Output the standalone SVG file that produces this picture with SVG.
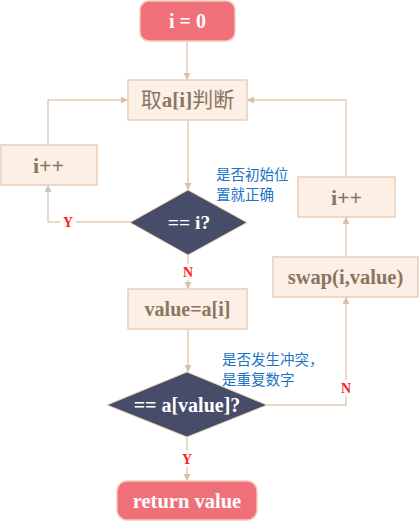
<svg xmlns="http://www.w3.org/2000/svg" width="420" height="522" viewBox="0 0 420 522">
<defs>
<marker id="ah" viewBox="0 0 10 10" refX="10" refY="5" markerWidth="7" markerHeight="7" orient="auto" markerUnits="userSpaceOnUse">
<path d="M0,0 L10,5 L0,10 z" fill="#d9c0a6"/>
</marker>
<style>
.box{fill:#fcefe6;stroke:#ebcdb6;stroke-width:1.5}
.term{fill:#f0707a;stroke:#f3c9b8;stroke-width:1.5}
.dia{fill:#474d69;stroke:#ebcdb6;stroke-width:1}
.con{fill:none;stroke:#e4ccb4;stroke-width:1.5}
.bt{font-family:"Liberation Serif","Noto Sans CJK SC",serif;font-weight:bold;font-size:20px;fill:#8a7660;text-anchor:middle;dominant-baseline:central}
.wt{font-family:"Liberation Serif",serif;font-weight:bold;font-size:20px;fill:#ffffff;text-anchor:middle;dominant-baseline:central}
.lab{font-family:"Liberation Serif",serif;font-weight:bold;font-size:14px;fill:#ff1a1a;text-anchor:middle;dominant-baseline:central}
.note{font-family:"Noto Sans CJK SC",sans-serif;font-size:14.5px;fill:#1a73c4;dominant-baseline:central}
</style>
</defs>
<g id="connectors">
<line class="con" x1="187" y1="41" x2="187" y2="80" marker-end="url(#ah)"/>
<line class="con" x1="188" y1="120" x2="188" y2="190" marker-end="url(#ah)"/>
<polyline class="con" points="130,222 48,222 48,185" marker-end="url(#ah)"/>
<polyline class="con" points="48,145 48,100 128,100" marker-end="url(#ah)"/>
<line class="con" x1="188" y1="255" x2="188" y2="289" marker-end="url(#ah)"/>
<line class="con" x1="188" y1="329" x2="188" y2="372" marker-end="url(#ah)"/>
<polyline class="con" points="267,405 346,405 346,297" marker-end="url(#ah)"/>
<line class="con" x1="346" y1="257" x2="346" y2="217" marker-end="url(#ah)"/>
<polyline class="con" points="346,177 346,100 247,100" marker-end="url(#ah)"/>
<line class="con" x1="187" y1="437" x2="187" y2="481" marker-end="url(#ah)"/>
<rect x="60" y="214" width="16" height="16" fill="#ffffff"/>
<text class="lab" x="68" y="222">Y</text>
<rect x="180" y="264" width="16" height="16" fill="#ffffff"/>
<text class="lab" x="188" y="272">N</text>
<rect x="338" y="380" width="16" height="16" fill="#ffffff"/>
<text class="lab" x="346" y="388">N</text>
<rect x="179" y="451" width="16" height="16" fill="#ffffff"/>
<text class="lab" x="187" y="459">Y</text>
</g>
<g id="start">
<rect class="term" x="140" y="1" width="95" height="40" rx="9"/>
<text class="wt" x="187.5" y="21">i = 0</text>
</g>
<g id="fetch">
<rect class="box" x="128" y="80" width="119" height="40"/>
<text class="bt" x="187.5" y="100" style="font-size:21px"><tspan font-weight="normal">取</tspan>a[i]<tspan font-weight="normal">判断</tspan></text>
</g>
<g id="inc-left">
<rect class="box" x="1" y="145" width="96" height="40"/>
<text class="bt" x="48.5" y="165" style="font-size:22px">i++</text>
</g>
<g id="check-i">
<polygon class="dia" points="188,190 247,222.5 188,255 130,222.5"/>
<text class="wt" x="189" y="222.5" style="font-size:19.5px">== i?</text>
</g>
<g id="note1">
<text class="note" x="216" y="173">是否初始位</text>
<text class="note" x="216" y="193">置就正确</text>
</g>
<g id="inc-right">
<rect class="box" x="298" y="177" width="97" height="40"/>
<text class="bt" x="346.5" y="197" style="font-size:22px">i++</text>
</g>
<g id="swap">
<rect class="box" x="273" y="257" width="145" height="40"/>
<text class="bt" x="345.5" y="277" style="font-size:20.5px">swap(i,value)</text>
</g>
<g id="assign">
<rect class="box" x="128" y="289" width="119" height="40"/>
<text class="bt" x="187.5" y="309">value=a[i]</text>
</g>
<g id="note2">
<text class="note" x="222" y="358">是否发生冲突，</text>
<text class="note" x="222" y="378">是重复数字</text>
</g>
<g id="check-value">
<polygon class="dia" points="187,372 267,405 187,437 107,405"/>
<text class="wt" x="187" y="405">== a[value]?</text>
</g>
<g id="return">
<rect class="term" x="117" y="481" width="140" height="39" rx="10"/>
<text class="wt" x="187" y="500.5" style="font-size:20.5px">return value</text>
</g>
</svg>
